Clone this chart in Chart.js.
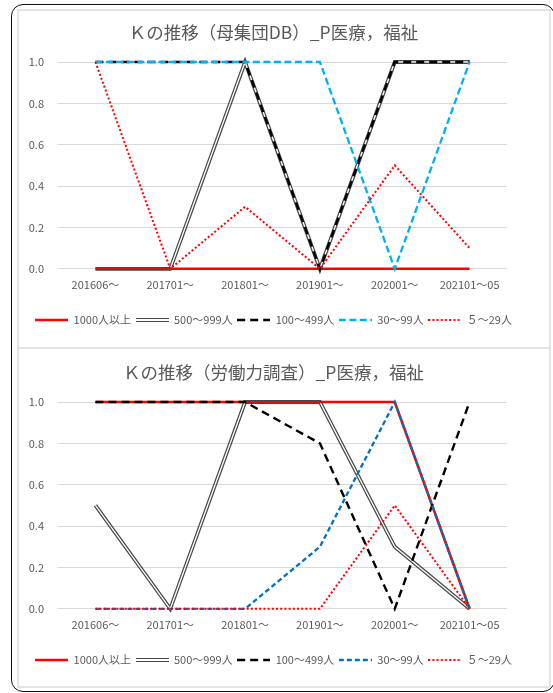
<!DOCTYPE html>
<html lang="ja">
<head>
<meta charset="utf-8">
<title>Kの推移 P医療，福祉</title>
<script src="https://cdn.jsdelivr.net/npm/chart.js@4/dist/chart.umd.min.js"></script>
<style>
  html, body { margin: 0; padding: 0; background: #ffffff; }
  body { width: 553px; height: 693px; position: relative; overflow: hidden; }
  .frame {
    position: absolute; left: 11px; top: 4px; width: 544px; height: 688px;
    box-sizing: border-box; border: 1.5px solid #111; border-radius: 12px;
  }
  .panel {
    position: absolute; left: 17px; width: 534px; box-sizing: border-box;
    border: 2px solid #e3e3e3; background: #ffffff;
  }
  #p1 { top: 9px; height: 340px; }
  #p2 { top: 347px; height: 341px; }
  canvas { position: absolute; }
  #c1 { left: 19px; top: 11px; }
  #c2 { left: 19px; top: 351px; }
</style>
</head>
<body>
<div class="frame"></div>
<div class="panel" id="p1"></div>
<div class="panel" id="p2"></div>
<canvas id="c1" width="515" height="335" style="width:515px;height:335px"></canvas>
<canvas id="c2" width="515" height="335" style="width:515px;height:335px"></canvas>
<script>
// Survey periods along the horizontal axis
const periods = ['201606～', '201701～', '201801～', '201901～', '202001～', '202101～05'];
// Establishment size classes
const sizeClasses = ['1000人以上', '500～999人', '100～499人', '30～99人', '５～29人'];
// Vertical axis tick values
const yTickValues = [0, 0.2, 0.4, 0.6, 0.8, 1.0];

// K from the population database (母集団DB)
const db1000 = [0, 0, 0, 0, 0, 0];
const db500  = [0, 0, 1, 0, 1, 1];
const db100  = [1, 1, 1, 0, 1, 1];
const db30   = [1, 1, 1, 1, 0, 1];
const db5    = [1, 0, 0.3, 0, 0.5, 0.1];

// K from the labour force survey (労働力調査)
const lfs1000 = [1, 1, 1, 1, 1, 0];
const lfs500  = [0.5, 0, 1, 1, 0.3, 0];
const lfs100  = [1, 1, 1, 0.8, 0, 1];
const lfs30   = [0, 0, 0, 0.3, 1, 0];
const lfs5    = [0, 0, 0, 0, 0.5, 0];

const FONT = "'Noto Sans CJK JP', 'Noto Sans', sans-serif";
const TEXT = '#595959';
const DOUBLE_COLOR = '#474747';
const SAMPLE_W = 33;

// Legend sample: a short stroke in the dataset's own line style
function legendSample(ds) {
  const c = document.createElement('canvas');
  c.width = SAMPLE_W; c.height = 6;
  const g = c.getContext('2d');
  if (ds.doubleLine) {
    g.fillStyle = ds.borderColor;
    g.fillRect(0, 1, SAMPLE_W, 4);
    g.clearRect(0, 2.4, SAMPLE_W, 1.2);
    return c;
  }
  g.strokeStyle = ds.borderColor;
  g.lineWidth = ds.borderWidth;
  g.setLineDash(ds.borderDash || []);
  g.beginPath();
  g.moveTo(0, 3);
  g.lineTo(SAMPLE_W, 3);
  g.stroke();
  return c;
}

// Draws datasets flagged with doubleLine as two thin parallel strokes
// with a transparent gap between them.
const doubleLinePlugin = {
  id: 'doubleLine',
  beforeDatasetDraw(chart, args) {
    const ds = chart.data.datasets[args.index];
    if (!ds.doubleLine) return;
    const pts = args.meta.data;
    const off = document.createElement('canvas');
    off.width = chart.canvas.width;
    off.height = chart.canvas.height;
    const o = off.getContext('2d');
    const r = chart.currentDevicePixelRatio || 1;
    o.scale(r, r);
    o.beginPath();
    pts.forEach((p, i) => (i ? o.lineTo(p.x, p.y) : o.moveTo(p.x, p.y)));
    o.lineJoin = 'miter';
    o.lineCap = 'butt';
    o.strokeStyle = ds.borderColor;
    o.lineWidth = 3.8;
    o.stroke();
    o.globalCompositeOperation = 'destination-out';
    o.lineWidth = 1.3;
    o.stroke();
    const ctx = chart.ctx;
    ctx.save();
    ctx.setTransform(1, 0, 0, 1, 0, 0);
    ctx.drawImage(off, 0, 0);
    ctx.restore();
    return false;
  }
};

function buildDatasets(values, blue, blueDash) {
  return [
    { label: sizeClasses[0], data: values[0], borderColor: '#ff0000', borderWidth: 2.6, order: 5 },
    { label: sizeClasses[1], data: values[1], borderColor: DOUBLE_COLOR, borderWidth: 3.8,
      doubleLine: true, order: 4 },
    { label: sizeClasses[2], data: values[2], borderColor: '#000000', borderWidth: 2.4,
      borderDash: [8, 5], order: 3 },
    { label: sizeClasses[3], data: values[3], borderColor: blue, borderWidth: 2.3,
      borderDash: blueDash, order: 2 },
    { label: sizeClasses[4], data: values[4], borderColor: '#ff0000', borderWidth: 2,
      borderDash: [2, 2.2], order: 1 }
  ].map(d => Object.assign({
    backgroundColor: d.borderColor, pointRadius: 0, pointHoverRadius: 0,
    tension: 0, fill: false, clip: false, borderJoinStyle: 'miter'
  }, d));
}

function makeChart(id, title, values, blue, blueDash) {
  return new Chart(document.getElementById(id), {
    type: 'line',
    data: { labels: periods, datasets: buildDatasets(values, blue, blueDash) },
    plugins: [doubleLinePlugin],
    options: {
      responsive: false,
      animation: false,
      events: [],
      layout: { padding: { left: 0, right: 6, top: 0, bottom: 10.5 } },
      plugins: {
        title: {
          display: true, text: title, color: TEXT,
          font: { family: FONT, size: 17.5, weight: 'normal' },
          padding: { top: 11, bottom: 19 }
        },
        legend: {
          position: 'bottom',
          labels: {
            usePointStyle: true, pointStyleWidth: SAMPLE_W, boxHeight: 11,
            padding: 4.5, color: TEXT,
            font: { family: FONT, size: 11 },
            generateLabels: chart => chart.data.datasets.map((ds, i) => ({
              text: ds.label, datasetIndex: i, hidden: false,
              pointStyle: legendSample(ds), fontColor: TEXT,
              fillStyle: 'transparent', strokeStyle: 'transparent', lineWidth: 0
            }))
          }
        },
        tooltip: { enabled: false }
      },
      scales: {
        x: {
          offset: true,
          afterFit: s => { s.height += 10; },
          grid: { display: false, drawTicks: false },
          border: { display: false },
          ticks: { color: TEXT, font: { family: FONT, size: 11 }, padding: 9,
                   maxRotation: 0, autoSkip: false }
        },
        y: {
          min: 0, max: 1,
          afterBuildTicks: s => { s.ticks = yTickValues.map(v => ({ value: v })); },
          afterFit: s => { s.width = 39; },
          grid: { color: '#d9d9d9', lineWidth: 1, drawTicks: false },
          border: { display: false },
          ticks: { color: TEXT, font: { family: FONT, size: 11 }, padding: 14,
                   callback: v => Number(v).toFixed(1) }
        },
        // empty margin on the right of the plot area
        yRight: {
          position: 'right', min: 0, max: 1,
          afterFit: s => { s.width = 21; },
          grid: { display: false, drawTicks: false },
          border: { display: false },
          ticks: { display: false }
        }
      }
    }
  });
}

makeChart('c1', 'Ｋの推移（母集団DB）_P医療，福祉',
  [db1000, db500, db100, db30, db5], '#00b0f0', [7, 3.5]);
makeChart('c2', 'Ｋの推移（労働力調査）_P医療，福祉',
  [lfs1000, lfs500, lfs100, lfs30, lfs5], '#0070c0', [5, 3]);
</script>
</body>
</html>
